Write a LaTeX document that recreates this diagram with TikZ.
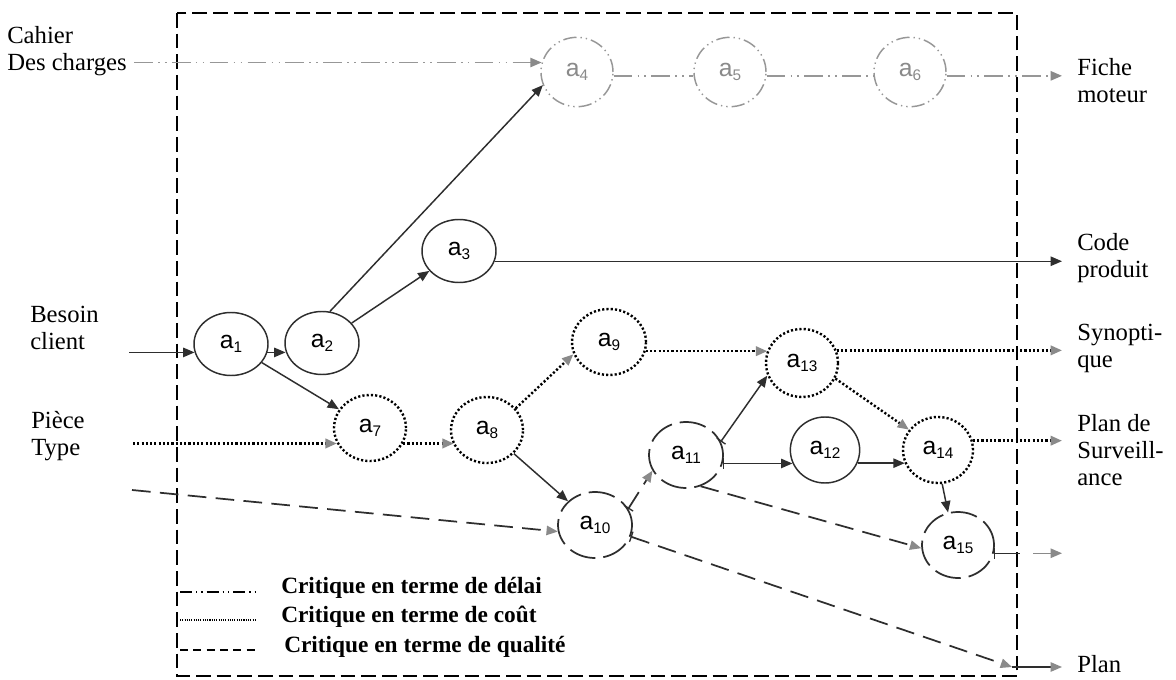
\documentclass[tikz,border=0pt]{standalone}
\usepackage{fontspec}
\setmainfont{Liberation Serif}
\setsansfont{Liberation Sans}
\usetikzlibrary{arrows.meta,shapes.geometric}
\definecolor{dk}{HTML}{2E2E2E}
\definecolor{gr}{HTML}{8A8A8A}
\definecolor{lg}{HTML}{979797}
\newcommand\idx[1]{\raisebox{-0.35ex}{\fontsize{11.5}{11.5}\selectfont #1}}
\begin{document}
\begin{tikzpicture}[x=0.75pt,y=-0.75pt,
  act/.style={ellipse, inner sep=0pt, font=\sffamily\fontsize{18.5}{18.5}\selectfont},
  solidn/.style={act, draw=dk, line width=1.1pt, minimum width=55.5pt, minimum height=47.25pt},
  dotn/.style={act, draw=black, line width=1.8pt, dash pattern=on 1.6pt off 1.6pt, minimum width=54pt, minimum height=49.5pt},
  dashn/.style={act, draw=dk, line width=1.3pt, dash pattern=on 20pt off 6pt, minimum width=55.5pt, minimum height=49.5pt},
  ddn/.style={act, draw=lg, text=gr, line width=1.1pt, dash pattern=on 10pt off 3pt on 1pt off 3pt on 1pt off 3pt, minimum width=54pt, minimum height=52pt},
  tipd/.style={-{Triangle[length=8.5pt,width=7pt,color=dk]}},
  tipg/.style={-{Triangle[length=8.5pt,width=7pt,color=gr]}},
  bartipd/.style={{Bar[width=8pt,line width=1pt]}-{Triangle[length=8.5pt,width=7pt,color=dk]}},
  bartipg/.style={{Bar[width=8pt,line width=1pt,color=dk]}-{Triangle[length=8.5pt,width=7pt,color=gr]}},
  barstart/.style={{Bar[width=8pt,line width=1pt]}-},
  solidl/.style={draw=dk, line width=1.1pt},
  dotl/.style={draw=black, line width=1.8pt, dash pattern=on 1.6pt off 1.6pt},
  dashl/.style={draw=dk, line width=1.3pt, dash pattern=on 14pt off 7pt},
  ddl/.style={draw=lg, line width=1.2pt, dash pattern=on 14pt off 4pt on 1.2pt off 4pt on 1.2pt off 4pt},
  lbl/.style={font=\fontsize{18.5}{20.25}\selectfont, align=left, anchor=west, inner sep=0pt},
  leg/.style={font=\bfseries\fontsize{17.5}{20}\selectfont, anchor=west, inner sep=0pt},
  frame/.style={draw=black, line width=1.1pt, dash pattern=on 11pt off 4.5pt},
  legdd/.style={draw=black, line width=1pt, dash pattern=on 9pt off 3pt on 1pt off 3pt on 1pt off 3pt},
  legdot/.style={draw=black, line width=0.8pt, dash pattern=on 0.8pt off 0.9pt},
  legdash/.style={draw=black, line width=1pt, dash pattern=on 6pt off 4pt}
]
\useasboundingbox (0,0) rectangle (1176,680);
\fill[white] (0,0) rectangle (1176,680);

% frame
\draw[frame] (177,13) rectangle (1017,676);

% activity nodes
\node[solidn] (a1) at (231,344) {a\idx{1}};
\node[solidn] (a2) at (322,343) {a\idx{2}};
\node[solidn] (a3) at (459,251) {a\idx{3}};
\node[ddn] (a4) at (577,72) {a\idx{4}};
\node[ddn] (a5) at (730,72) {a\idx{5}};
\node[ddn] (a6) at (910,72) {a\idx{6}};
\node[dotn] (a7) at (370,428) {a\idx{7}};
\node[dotn] (a8) at (487,430) {a\idx{8}};
\node[dotn, minimum width=55.5pt] (a9) at (609,342) {a\idx{9}};
\node[dashn] (a10) at (595,525) {a\idx{10}};
\node[dashn] (a11) at (686,455) {a\idx{11}};
\node[solidn, minimum width=52pt, minimum height=49.5pt] (a12) at (825,450) {a\idx{12}};
\node[dotn, minimum height=51pt] (a13) at (802,363) {a\idx{13}};
\node[dotn, minimum width=52.5pt] (a14) at (938,450) {a\idx{14}};
\node[dashn, minimum width=54pt] (a15) at (958,545) {a\idx{15}};

% side labels
\node[lbl] (cahier) at (7,51) {Cahier\\Des charges};
\node[lbl] (besoin) at (30,328) {Besoin\\client};
\node[lbl] (piece) at (31,436) {Pièce\\Type};
\node[lbl] (fiche) at (1077,81) {Fiche\\moteur};
\node[lbl] (code) at (1077,258) {Code\\produit};
\node[lbl] (syn) at (1077,348) {Synopti-\\que};
\node[lbl] (surv) at (1077,450) {Plan de\\Surveill-\\ance};
\node[lbl] (plan) at (1077,664) {Plan};

% free ends
\coordinate (cIn) at (134,0);
\coordinate (cB) at (129,0);
\coordinate (cP) at (133,0);
\coordinate (cQ) at (132,490);
\coordinate (cR) at (1062,0);
\coordinate (q1) at (1020,0);
\coordinate (q2) at (1033,0);
\coordinate (pA) at (1012,667);
\coordinate (pB) at (1062,667);

% delay path (dash-dot)
\draw[ddl, tipg] (a4.165 -| cIn) -- (a4.165);
\draw[ddl] (a4.-6) -- (a5.186);
\draw[ddl] (a5.-6) -- (a6.186);
\draw[ddl, tipg] (a6.-6) -- (a6.-6 -| cR);

% solid
\draw[solidl, tipd] (a1.193 -| cB) -- (a1.193);
\draw[solidl, tipd] (a1.-13) -- (a1.-13 -| a2.193);
\draw[solidl, tipd] (a1) -- (a7);
\draw[solidl, tipd] (a2) -- (a3);
\draw[solidl, tipd] (a2.76) -- (a4.201);
\draw[solidl, tipd] (a3.-16) -- (a3.-16 -| cR);
\draw[solidl, tipd] (a8) -- (a10);
\draw[solidl, bartipd] (a11.21) -- (a13.200);
\draw[solidl, bartipd] (a11.-13) -- (a11.-13 -| a12.202);
\draw[solidl, tipd] (a12.-22) -- (a12.-22 -| a14.202);
\draw[solidl, tipd] (a14.-83) -- (a15.107);

% cost (dotted)
\draw[dotl, tipg] (a7.205 -| cP) -- (a7.205);
\draw[dotl, tipg] (a7.-25) -- (a7.-25 -| a8.205);
\draw[dotl, tipg] (a8.37) -- (a9.199);
\draw[dotl, tipg] (a9.-14) -- (a9.-14 -| a13.160);
\draw[dotl, tipg] (a13.20) -- (a13.20 -| cR);
\draw[dotl, tipg] (a13.-25) -- (a14.145);
\draw[dotl, tipg] (a14.15) -- (a14.15 -| cR);

% quality (dashed)
\draw[dashl, tipg] (cQ) -- (a10.190);
\draw[dashl, bartipg] (a10.26) -- (a11.205);
\draw[dashl, tipg] (a11.-65) -- (a15.185);
\draw[dashl, bartipg] (a10.-18) -- (pA);
\draw[solidl, tipg] (pA) -- (pB);
\draw[solidl, barstart] (a15.-13) -- (a15.-13 -| q1);
\draw[draw=gr, line width=1.1pt, tipg] (a15.-13 -| q2) -- (a15.-13 -| cR);

% legend
\coordinate (l1a) at (180,592); \coordinate (l1b) at (257,592);
\coordinate (l2a) at (180,620); \coordinate (l2b) at (257,620);
\coordinate (l3a) at (180,650); \coordinate (l3b) at (257,650);
\draw[legdd] (l1a) -- (l1b);
\draw[legdot] (l2a) -- (l2b);
\draw[legdash] (l3a) -- (l3b);
\node[leg] (t1) at (281,588) {Critique en terme de délai};
\node[leg] (t2) at (281,617) {Critique en terme de coût};
\node[leg] (t3) at (284,647) {Critique en terme de qualité};
\end{tikzpicture}
\end{document}
